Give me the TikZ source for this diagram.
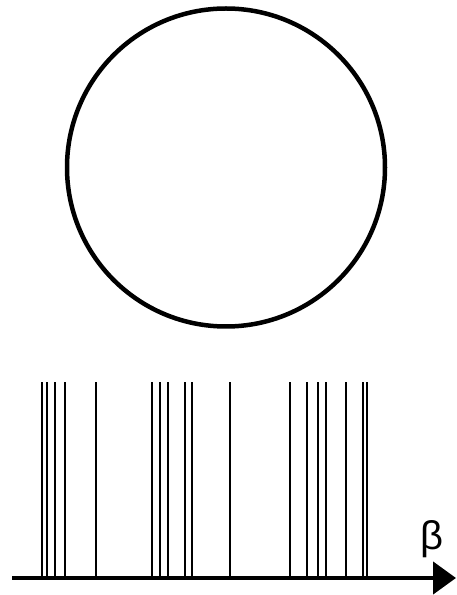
\documentclass[tikz,border=0pt]{standalone}
\usepackage{fontspec}
\usepackage{tikz}
\usetikzlibrary{arrows.meta, positioning}
\newfontfamily\betafont{Liberation Sans}
\tikzset{
  ring/.style={draw=black, line width=4.5pt},
  spike/.style={draw=black, line width=2pt},
  axisarr/.style={-{Triangle[length=23pt, width=32pt]}, line width=4.5pt},
  betalabel/.style={font=\betafont\fontsize{40}{40}\selectfont, inner sep=0pt},
}
\begin{document}
\begin{tikzpicture}[x=1pt, y=1pt]
  \useasboundingbox (0,0) rectangle (457,595);
  % circle
  \draw[ring] (226,427.5) circle (159);
  % spectrum axis
  \coordinate (a0) at (12,17);
  \coordinate (a1) at (456,17);
  \foreach \xx in {42,47.3,55.3,65.3,95.7,152,160.3,167.7,185.3,192.3,
                   230,290,307,318.3,325.7,346,363.3,367}
    \draw[spike] (\xx,17) -- (\xx,213);
  \draw[axisarr] (a0) -- (a1);
  \node[betalabel] (beta) at (432,56) {β};
\end{tikzpicture}
\end{document}
